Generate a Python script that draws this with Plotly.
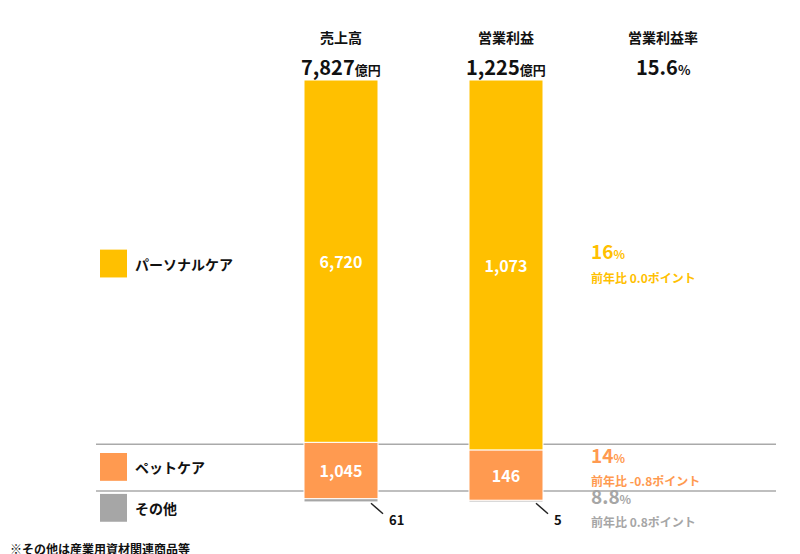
import plotly.graph_objects as go

segments = ['その他', 'ペットケア', 'パーソナルケア']
colors = ['#A6A6A6', '#FF9A50', '#FFC000']
sales = [61, 1045, 6720]
profit = [5, 146, 1073]
headers = ['売上高', '営業利益', '営業利益率']
header_values = ['7,827', '1,225', '15.6']
header_units = ['億円', '億円', '%']
margin_rates = ['8.8', '14', '16']
yoy = ['前年比 0.8ポイント', '前年比 -0.8ポイント', '前年比 0.0ポイント']

FONT = 'Noto Sans CJK JP'
bar_x = [333, 498]

fig = go.Figure()
for col, vals in zip(bar_x, [sales, profit]):
    total = sum(vals)
    base = 0
    for i, v in enumerate(vals):
        pct = v / total * 100
        txt = f'<b>{v:,}</b>' if i > 0 else ''
        fig.add_trace(go.Bar(x=[col], y=[pct], base=[base], width=74, marker=dict(color=colors[i], line=dict(color='white', width=1)),
                             text=[txt], textposition='inside', insidetextanchor='middle',
                             textfont=dict(color='white', size=16, family=FONT), showlegend=False, hoverinfo='skip'))
        base += pct
    # leader for small segment
    fig.add_shape(type='line', x0=col + 30, x1=col + 42, y0=-0.3, y1=-2.8, line=dict(color='#222', width=1.5))
    fig.add_annotation(x=col + 46, y=-4.2, text=f'<b>{vals[0]:,}</b>', showarrow=False, xanchor='left',
                       font=dict(size=13, color='#111', family=FONT))

# separator lines
for yv in [13.7, 2.6]:
    fig.add_shape(type='line', x0=88, x1=768, y0=yv, y1=yv, line=dict(color='#aaa', width=1.5), layer='below')

# legend boxes
leg_y = [-1.4, 8.3, 56.5]
for i, seg in enumerate(segments):
    fig.add_shape(type='rect', x0=92, x1=119, y0=leg_y[i] - 3.3, y1=leg_y[i] + 3.3, fillcolor=colors[i], line=dict(width=0))
    fig.add_annotation(x=125, y=leg_y[i], text=f'<b>{seg}</b>', showarrow=False, xanchor='left',
                       font=dict(size=14, color='#111', family=FONT))
    fig.add_annotation(x=581, y=leg_y[i] + 3.0, text=f'<b>{margin_rates[i]}<span style="font-size:12px">%</span></b>',
                       showarrow=False, xanchor='left', font=dict(size=19, color=colors[i], family=FONT))
    fig.add_annotation(x=581, y=leg_y[i] - 3.3, text=f'<b>{yoy[i]}</b>', showarrow=False, xanchor='left',
                       font=dict(size=12, color=colors[i], family=FONT))

# headers
for x, h, v, u in zip(bar_x + [655], headers, header_values, header_units):
    fig.add_annotation(x=x, y=1, yref='paper', yshift=55, text=f'<b>{h}</b>', showarrow=False,
                       font=dict(size=14, color='#111', family=FONT))
    fig.add_annotation(x=x, y=1, yref='paper', yshift=30, text=f'<b>{v}<span style="font-size:13px">{u}</span></b>',
                       showarrow=False, font=dict(size=20, color='#111', family=FONT))

fig.add_annotation(x=0, y=-11, text='<b>※その他は産業用資材関連商品等</b>',
                   showarrow=False, xanchor='left', font=dict(size=12, color='#111', family=FONT))

fig.update_layout(
    width=800, height=554, barmode='overlay',
    margin=dict(l=0, r=0, t=72, b=1, autoexpand=False),
    plot_bgcolor='white', paper_bgcolor='white',
    xaxis=dict(range=[0, 800], visible=False),
    yaxis=dict(range=[-14, 100], visible=False),
    uniformtext=dict(mode='show', minsize=8),
)
fig.update_traces(cliponaxis=False)
fig.write_html('out.html')
